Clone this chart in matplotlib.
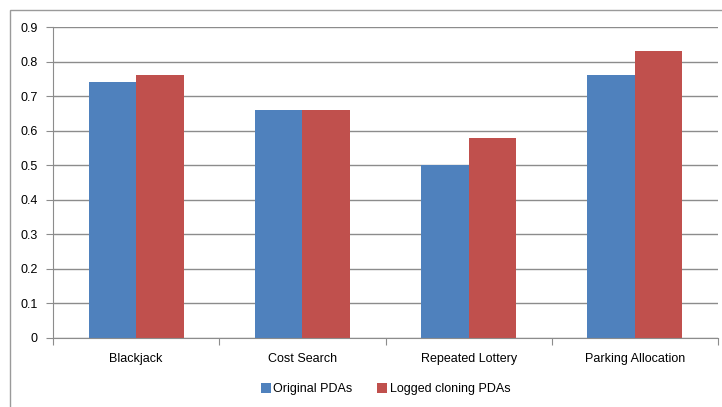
import numpy as np
import matplotlib
matplotlib.use("Agg")
import matplotlib.pyplot as plt
from matplotlib.patches import Rectangle

categories = ["Blackjack", "Cost Search", "Repeated Lottery", "Parking Allocation"]
original = [0.74, 0.66, 0.50, 0.76]
logged = [0.76, 0.66, 0.58, 0.83]
yticks = [0, 0.1, 0.2, 0.3, 0.4, 0.5, 0.6, 0.7, 0.8, 0.9]

plt.rcParams['font.family'] = ['Liberation Sans', 'DejaVu Sans']

fig = plt.figure(figsize=(7.22, 4.07), dpi=100)
fig.patches.append(Rectangle((10 / 722, -0.1), 1.2, 1.1 - 10 / 407,
                             transform=fig.transFigure, fill=False,
                             edgecolor="#9a9a9a", linewidth=1.0))
ax = fig.add_axes([53 / 722, 69 / 407, 665 / 722, 311 / 407])

x = np.arange(len(categories))
w = 0.285
ax.bar(x - w / 2, original, w, color="#4F81BD", label="Original PDAs")
ax.bar(x + w / 2, logged, w, color="#C0504D", label="Logged cloning PDAs")

ax.set_xlim(-0.5, len(categories) - 0.5)
ax.set_ylim(0, 0.9)
ax.set_yticks(yticks)
ax.set_yticklabels(["0" if v == 0 else f"{v:.1f}" for v in yticks])
ax.yaxis.grid(True, color="#8c8c8c", linewidth=1.0)
ax.set_axisbelow(True)

ax.set_xticks(np.arange(len(categories) + 1) - 0.5)
ax.set_xticklabels([])
ax.set_xticks(x, minor=True)
ax.set_xticklabels(categories, minor=True)
ax.tick_params(axis="x", which="minor", length=0, pad=11, labelsize=9)
ax.tick_params(axis="x", which="major", length=5, color="#8c8c8c", direction="out")
ax.tick_params(axis="y", length=5, color="#8c8c8c", labelsize=9, pad=6)

for s in ["top", "right"]:
    ax.spines[s].set_visible(False)
for s in ["left", "bottom"]:
    ax.spines[s].set_color("#8c8c8c")

ax.legend(loc="center", bbox_to_anchor=(0.5, -0.165), ncol=2, frameon=False,
          fontsize=9, handlelength=0.8, handleheight=0.8, handletextpad=0.2,
          columnspacing=2.0)

plt.savefig("out.png", dpi=100)
